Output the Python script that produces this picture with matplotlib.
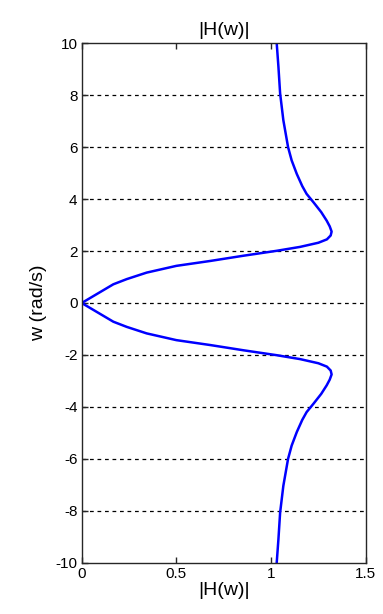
import matplotlib
matplotlib.use('Agg')
import matplotlib.pyplot as plt

# |H(w)|, w from 10 down to -10
w = [10, 9.1, 8.07, 7.04, 6.0, 5.49, 4.97, 4.5, 4.2, 3.88, 3.5, 3.17, 2.95, 2.75, 2.6,
     2.45, 2.32, 2.16, 2.01, 1.82, 1.62, 1.43, 1.17, 0.92, 0.72, 0,
     -0.72, -0.92, -1.17, -1.43, -1.62, -1.82, -2.01, -2.16, -2.32, -2.45, -2.6,
     -2.75, -2.95, -3.17, -3.5, -3.88, -4.2, -4.5, -4.97, -5.49, -6.0, -7.04,
     -8.07, -9.1, -10]
H = [1.03, 1.039, 1.048, 1.065, 1.09, 1.109, 1.136, 1.165, 1.188, 1.224, 1.265, 1.294,
     1.31, 1.32, 1.315, 1.295, 1.25, 1.153, 1.03, 0.854, 0.68, 0.50, 0.343, 0.238,
     0.167, 0,
     0.167, 0.238, 0.343, 0.50, 0.68, 0.854, 1.03, 1.153, 1.25, 1.295, 1.315,
     1.32, 1.31, 1.294, 1.265, 1.224, 1.188, 1.165, 1.136, 1.109, 1.09, 1.065,
     1.048, 1.039, 1.03]

xticks = [0, 0.5, 1, 1.5]
xticklabels = ['0', '0.5', '1', '1.5']
yticks = [-10, -8, -6, -4, -2, 0, 2, 4, 6, 8, 10]

plt.rcParams['font.family'] = ['Liberation Sans', 'DejaVu Sans']
plt.rcParams['axes.unicode_minus'] = False

fig = plt.figure(figsize=(3.83, 6.14), dpi=100)
ax = fig.add_axes([81.7/383, 1-562.7/614, (365.7-81.7)/383, (562.7-43.3)/614])

ax.plot(H, w, color='#0000ff', lw=1.8)

ax.set_xlim(0, 1.5)
ax.set_ylim(-10, 10)
ax.set_xticks(xticks)
ax.set_xticklabels(xticklabels)
ax.set_yticks(yticks)
ax.tick_params(direction='in', labelsize=11, length=4, width=1,
               top=True, right=False, colors='#262626', labelcolor='black', pad=3)
for s in ax.spines.values():
    s.set_color('#262626')
    s.set_linewidth(1)

for y in yticks[1:-1]:
    ax.axhline(y, color='black', ls=(0, (3, 3)), lw=0.9, zorder=0)

ax.set_title('|H(w)|', fontsize=14, pad=6)
ax.set_xlabel('|H(w)|', fontsize=14, labelpad=1)
ax.set_ylabel('w (rad/s)', fontsize=14, labelpad=6)

fig.savefig('out.png', dpi=100)
